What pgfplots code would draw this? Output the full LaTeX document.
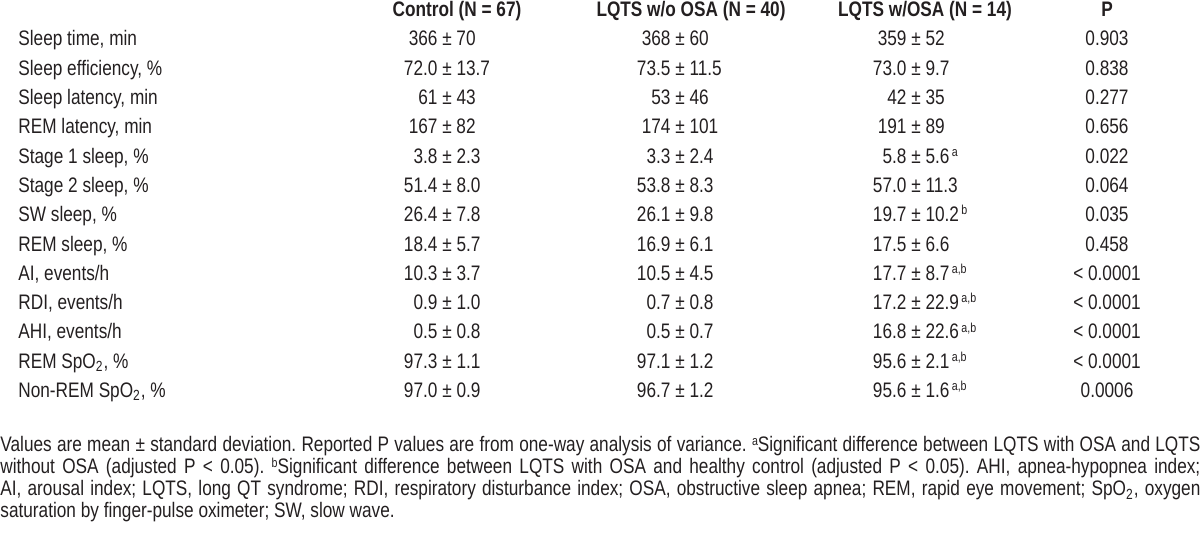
\documentclass[border=0pt]{standalone}
\usepackage{fontspec}
\setmainfont{Liberation Sans}[FakeStretch=0.82]
\usepackage{pgfplots}
\usepackage{pgfplotstable}
\pgfplotsset{compat=1.18}
\frenchspacing
\definecolor{txt}{HTML}{231F20}
\protected\def\pmv#1#2{\llap{#1\ }±\rlap{\ #2}}
\protected\def\sups#1{\kern1.2pt\raisebox{3.4pt}{\fontsize{6.5pt}{6.5pt}\selectfont #1}}
\protected\def\supa{\sups{a}}
\protected\def\supb{\sups{b}}
\protected\def\supab{\sups{a,b}}
\protected\def\fsup#1{\raisebox{3.4pt}{\fontsize{6.5pt}{6.5pt}\selectfont #1}}
\protected\def\two{\textsubscript{2}}
\protected\def\semi{;}
\protected\def\jl#1{\makebox[600pt][s]{#1}}
\protected\def\hd#1{\textbf{#1}}

\pgfplotstableread[col sep=semicolon,trim cells=true]{
x;y;t
457;17;\hd{Control (N = 67)}
691;17;\hd{LQTS w/o OSA (N = 40)}
925;17;\hd{LQTS w/OSA (N = 14)}
1107;17;\hd{P}
}\header

\pgfplotstableread[col sep=semicolon,trim cells=true]{
x;y;t
18;46;Sleep time, min
18;75.3;Sleep efficiency, \%
18;104.6;Sleep latency, min
18;133.9;REM latency, min
18;163.2;Stage 1 sleep, \%
18;192.5;Stage 2 sleep, \%
18;221.8;SW sleep, \%
18;251.1;REM sleep, \%
18;280.4;AI, events/h
18;309.7;RDI, events/h
18;339;AHI, events/h
18;368.3;REM SpO\two, \%
18;397.6;Non-REM SpO\two, \%
}\labels

\pgfplotstableread[col sep=semicolon,trim cells=true]{
x;y;t
447;46;\pmv{366}{70}
447;75.3;\pmv{72.0}{13.7}
447;104.6;\pmv{61}{43}
447;133.9;\pmv{167}{82}
447;163.2;\pmv{3.8}{2.3}
447;192.5;\pmv{51.4}{8.0}
447;221.8;\pmv{26.4}{7.8}
447;251.1;\pmv{18.4}{5.7}
447;280.4;\pmv{10.3}{3.7}
447;309.7;\pmv{0.9}{1.0}
447;339;\pmv{0.5}{0.8}
447;368.3;\pmv{97.3}{1.1}
447;397.6;\pmv{97.0}{0.9}
680;46;\pmv{368}{60}
680;75.3;\pmv{73.5}{11.5}
680;104.6;\pmv{53}{46}
680;133.9;\pmv{174}{101}
680;163.2;\pmv{3.3}{2.4}
680;192.5;\pmv{53.8}{8.3}
680;221.8;\pmv{26.1}{9.8}
680;251.1;\pmv{16.9}{6.1}
680;280.4;\pmv{10.5}{4.5}
680;309.7;\pmv{0.7}{0.8}
680;339;\pmv{0.5}{0.7}
680;368.3;\pmv{97.1}{1.2}
680;397.6;\pmv{96.7}{1.2}
916;46;\pmv{359}{52}
916;75.3;\pmv{73.0}{9.7}
916;104.6;\pmv{42}{35}
916;133.9;\pmv{191}{89}
916;163.2;\pmv{5.8}{5.6\supa}
916;192.5;\pmv{57.0}{11.3}
916;221.8;\pmv{19.7}{10.2\supb}
916;251.1;\pmv{17.5}{6.6}
916;280.4;\pmv{17.7}{8.7\supab}
916;309.7;\pmv{17.2}{22.9\supab}
916;339;\pmv{16.8}{22.6\supab}
916;368.3;\pmv{95.6}{2.1\supab}
916;397.6;\pmv{95.6}{1.6\supab}
1107;46;0.903
1107;75.3;0.838
1107;104.6;0.277
1107;133.9;0.656
1107;163.2;0.022
1107;192.5;0.064
1107;221.8;0.035
1107;251.1;0.458
1107;280.4;< 0.0001
1107;309.7;< 0.0001
1107;339;< 0.0001
1107;368.3;< 0.0001
1107;397.6;0.0006
}\cells

\pgfplotstableread[col sep=semicolon,trim cells=true]{
x;y;t
0;452;\jl{Values are mean ± standard deviation. Reported P values are from one-way analysis of variance. \fsup{a}Significant difference between LQTS with OSA and LQTS}
0;474;\jl{without OSA (adjusted P < 0.05). \fsup{b}Significant difference between LQTS with OSA and healthy control (adjusted P < 0.05). AHI, apnea-hypopnea index\semi}
0;496;\jl{AI, arousal index\semi{} LQTS, long QT syndrome\semi{} RDI, respiratory disturbance index\semi{} OSA, obstructive sleep apnea\semi{} REM, rapid eye movement\semi{} SpO\two, oxygen}
0;518;saturation by finger-pulse oximeter\semi{} SW, slow wave.
}\notes

\begin{document}
\begin{tikzpicture}
\begin{axis}[
  scale only axis, width=600pt, height=266.5pt,
  xmin=0, xmax=1200, ymin=0, ymax=533, y dir=reverse,
  hide axis, clip=false,
  nodes near coords={\pgfplotspointmeta},
  every node near coord/.append style={inner sep=0pt, text=txt,
    font=\fontsize{10.5pt}{12pt}\selectfont\frenchspacing},
]
\addplot[draw=none, mark=none, nodes near coords, point meta=explicit symbolic,
  every node near coord/.append style={anchor=base}]
  table[x=x, y=y, meta=t] {\header};
\addplot[draw=none, mark=none, nodes near coords, point meta=explicit symbolic,
  every node near coord/.append style={anchor=base west}]
  table[x=x, y=y, meta=t] {\labels};
\addplot[draw=none, mark=none, nodes near coords, point meta=explicit symbolic,
  every node near coord/.append style={anchor=base}]
  table[x=x, y=y, meta=t] {\cells};
\addplot[draw=none, mark=none, nodes near coords, point meta=explicit symbolic,
  every node near coord/.append style={anchor=base west}]
  table[x=x, y=y, meta=t] {\notes};
\end{axis}
\pgfresetboundingbox
\path (current axis.south west) rectangle (current axis.north east);
\end{tikzpicture}
\end{document}
